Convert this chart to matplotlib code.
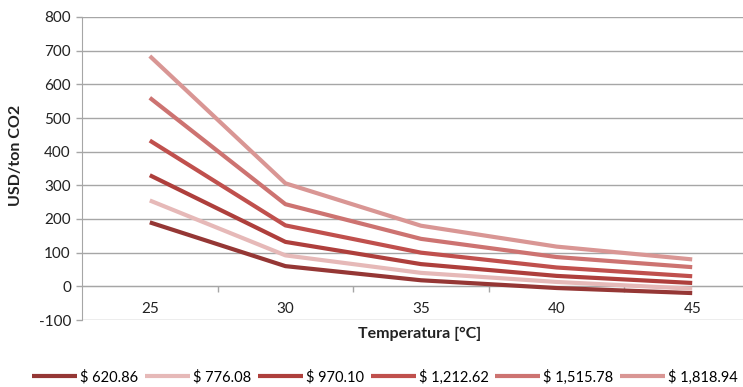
import matplotlib
matplotlib.use("Agg")
import matplotlib.pyplot as plt
from matplotlib.ticker import FixedLocator

plt.rcParams['font.family'] = ['Lato', 'DejaVu Sans']
plt.rcParams['axes.unicode_minus'] = False

temperatures = ["25", "30", "35", "40", "45"]
series_labels = ["$ 620.86", "$ 776.08", "$ 970.10", "$ 1,212.62", "$ 1,515.78", "$ 1,818.94"]
s_620 = [190, 60, 18, -5, -20]
s_776 = [255, 92, 40, 13, -7]
s_970 = [330, 132, 66, 31, 10]
s_1212 = [433, 181, 100, 56, 30]
s_1515 = [560, 244, 141, 87, 57]
s_1818 = [684, 306, 180, 118, 80]
series = [s_620, s_776, s_970, s_1212, s_1515, s_1818]
colors = ["#953735", "#E6B9B8", "#AE3F3C", "#C0504D", "#CD7371", "#D99694"]

fig = plt.figure(figsize=(7.43, 3.87), dpi=100)
ax = fig.add_axes([82 / 743, 67 / 387, 678 / 743, 303 / 387])

x = list(range(len(temperatures)))
for vals, lab, c in zip(series, series_labels, colors):
    ax.plot(x, vals, color=c, lw=3.0, label=lab, solid_capstyle='butt', zorder=3)

ax.set_xlim(-0.5, len(temperatures) - 0.5)
ax.set_ylim(-100, 800)
ax.set_yticks(range(-100, 801, 100))
ax.yaxis.grid(True, color="#A6A6A6", lw=1.0, zorder=0)
ax.set_axisbelow(True)

ax.set_xticks(x)
ax.set_xticklabels(temperatures)
ax.xaxis.set_minor_locator(FixedLocator([0.5, 1.5, 2.5, 3.5]))
ax.tick_params(axis='x', which='major', length=0, pad=11, labelsize=11, colors='#222222')
ax.tick_params(axis='x', which='minor', length=4, width=1, color='#A6A6A6', direction='out')
ax.tick_params(axis='y', length=4, width=1, color='#A6A6A6', labelsize=11,
               labelcolor='#222222', pad=4)

for side in ("top", "right"):
    ax.spines[side].set_visible(False)
ax.spines["left"].set_color("#A6A6A6")
ax.spines["bottom"].set_position(("data", 0))
ax.spines["bottom"].set_color("#A6A6A6")

fig.text(16 / 743, 1 - 155 / 387, "USD/ton CO2", rotation=90, ha='center', va='center',
         fontsize=11.5, fontweight='bold', color='#222222')
fig.text(420 / 743, 1 - 334 / 387, "Temperatura [°C]", ha='center', va='center',
         fontsize=11.5, fontweight='bold', color='#222222')

fig.legend(loc='center', bbox_to_anchor=(385 / 743, 1 - 377 / 387), ncol=6, frameon=False,
           fontsize=10.5, handlelength=3.1, handletextpad=0.2, columnspacing=0.45,
           borderaxespad=0)

fig.savefig("out.png", dpi=100)
